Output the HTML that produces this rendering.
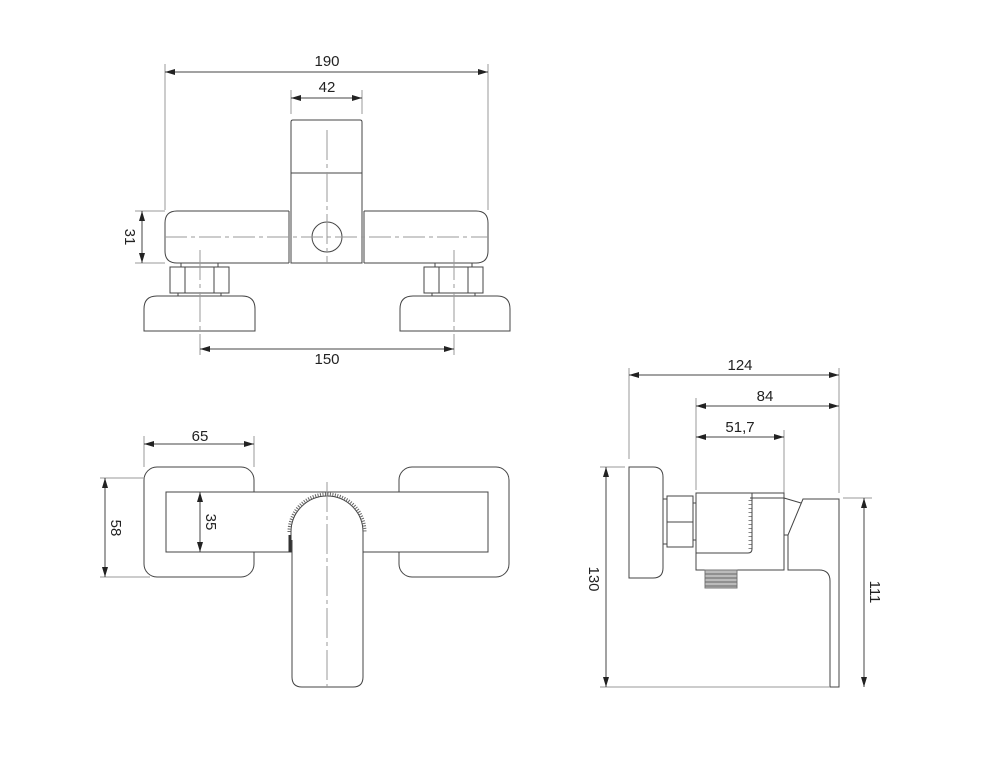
<!DOCTYPE html>
<html><head><meta charset="utf-8"><style>
html,body{margin:0;padding:0;background:#fff;}
svg{display:block;}
text{font-family:"Liberation Sans",sans-serif;font-size:15px;fill:#222;}
</style></head><body>
<svg width="988" height="760" viewBox="0 0 988 760" xmlns="http://www.w3.org/2000/svg">
<defs>
<marker id="a" viewBox="0 0 10 6" refX="10" refY="3" markerWidth="10" markerHeight="6" orient="auto-start-reverse" markerUnits="userSpaceOnUse"><path d="M0,0 L10,3 L0,6 z" fill="#222"/></marker>
</defs>
<g stroke="#444" stroke-width="1" fill="none">
<!-- ===== TOP VIEW ===== -->
<line x1="165" y1="64" x2="165" y2="210" stroke="#999"/>
<line x1="488" y1="64" x2="488" y2="210" stroke="#999"/>
<line x1="165" y1="72" x2="488" y2="72" marker-start="url(#a)" marker-end="url(#a)"/>
<line x1="291" y1="90" x2="291" y2="114" stroke="#999"/>
<line x1="362" y1="90" x2="362" y2="114" stroke="#999"/>
<line x1="291" y1="98" x2="362" y2="98" marker-start="url(#a)" marker-end="url(#a)"/>
<path d="M291,173 V122 Q291,120 293,120 H360 Q362,120 362,122 V173 Z"/>
<rect x="291" y="173" width="71" height="90"/>
<line x1="289" y1="211" x2="289" y2="263"/>
<line x1="364" y1="211" x2="364" y2="263"/>
<path d="M289,211 H177 Q165,211 165,223 V251 Q165,263 177,263 H289"/>
<path d="M364,211 H476 Q488,211 488,223 V251 Q488,263 476,263 H364"/>
<circle cx="327" cy="237" r="15"/>
<line x1="165" y1="237" x2="488" y2="237" stroke="#999" stroke-dasharray="22,4,4,4"/>
<line x1="327" y1="130" x2="327" y2="263" stroke="#999" stroke-dasharray="30,4,4,4"/>
<line x1="135" y1="211" x2="165" y2="211" stroke="#999"/>
<line x1="135" y1="263" x2="165" y2="263" stroke="#999"/>
<line x1="142" y1="211" x2="142" y2="263" marker-start="url(#a)" marker-end="url(#a)"/>
<!-- nuts -->
<rect x="181" y="263" width="37" height="4"/>
<rect x="170" y="267" width="59" height="26"/>
<line x1="185" y1="267" x2="185" y2="293"/><line x1="214" y1="267" x2="214" y2="293"/>
<rect x="178" y="293" width="43" height="3"/>
<path d="M144,331 V309 Q144,296 157,296 H242 Q255,296 255,309 V331 Z"/>
<rect x="435" y="263" width="37" height="4"/>
<rect x="424" y="267" width="59" height="26"/>
<line x1="439" y1="267" x2="439" y2="293"/><line x1="468" y1="267" x2="468" y2="293"/>
<rect x="432" y="293" width="43" height="3"/>
<path d="M400,331 V309 Q400,296 413,296 H497 Q510,296 510,309 V331 Z"/>
<line x1="200" y1="250" x2="200" y2="355" stroke="#999" stroke-dasharray="30,4,4,4"/>
<line x1="454" y1="250" x2="454" y2="355" stroke="#999" stroke-dasharray="30,4,4,4"/>
<line x1="200" y1="349" x2="454" y2="349" marker-start="url(#a)" marker-end="url(#a)"/>

<!-- ===== FRONT VIEW ===== -->
<line x1="144" y1="436" x2="144" y2="467" stroke="#999"/>
<line x1="254" y1="436" x2="254" y2="467" stroke="#999"/>
<line x1="144" y1="444" x2="254" y2="444" marker-start="url(#a)" marker-end="url(#a)"/>
<rect x="144" y="467" width="110" height="110" rx="13" fill="#fff"/>
<rect x="399" y="467" width="110" height="110" rx="13" fill="#fff"/>
<rect x="166" y="492" width="322" height="60" fill="#fff"/>
<path d="M291,552 V532 A36,36 0 0 1 363,532 V552" fill="#fff"/>
<path d="M289,532 A38,38 0 0 1 365,532" stroke="#666" stroke-width="3" stroke-dasharray="1,1.5"/>
<line x1="290" y1="535" x2="290" y2="552" stroke="#333" stroke-width="3"/>
<path d="M292,540 V677 Q292,687 302,687 H353 Q363,687 363,677 V540" fill="#fff"/>
<line x1="327" y1="482" x2="327" y2="687" stroke="#999" stroke-dasharray="30,4,4,4"/>
<line x1="100" y1="478" x2="145" y2="478" stroke="#999"/>
<line x1="100" y1="577" x2="150" y2="577" stroke="#999"/>
<line x1="105" y1="478" x2="105" y2="577" marker-start="url(#a)" marker-end="url(#a)"/>
<line x1="200" y1="492" x2="200" y2="552" marker-start="url(#a)" marker-end="url(#a)"/>

<!-- ===== SIDE VIEW ===== -->
<line x1="629" y1="368" x2="629" y2="459" stroke="#999"/>
<line x1="696" y1="398" x2="696" y2="490" stroke="#999"/>
<line x1="784" y1="430" x2="784" y2="496" stroke="#999"/>
<line x1="839" y1="368" x2="839" y2="493" stroke="#999"/>
<line x1="629" y1="375" x2="839" y2="375" marker-start="url(#a)" marker-end="url(#a)"/>
<line x1="696" y1="406" x2="839" y2="406" marker-start="url(#a)" marker-end="url(#a)"/>
<line x1="696" y1="437" x2="784" y2="437" marker-start="url(#a)" marker-end="url(#a)"/>
<path d="M629,467 H653 Q663,467 663,477 V568 Q663,578 653,578 H629 Z"/>
<rect x="667" y="496" width="26" height="51"/>
<line x1="667" y1="522" x2="693" y2="522"/>
<line x1="663" y1="499" x2="667" y2="499"/><line x1="663" y1="544" x2="667" y2="544"/>
<line x1="693" y1="503" x2="696" y2="503"/><line x1="693" y1="540" x2="696" y2="540"/>
<rect x="696" y="493" width="88" height="77"/>
<path d="M696,553 H748 Q752,553 752,549 V493"/>
<line x1="750" y1="498" x2="784" y2="498"/>
<line x1="750" y1="500" x2="750" y2="550" stroke="#888" stroke-width="3" stroke-dasharray="1,3"/>
<rect x="705" y="570" width="32" height="18" fill="#bbb" stroke="#777"/>
<g stroke="#666"><line x1="705" y1="574" x2="737" y2="574"/><line x1="705" y1="578" x2="737" y2="578"/><line x1="705" y1="582" x2="737" y2="582"/><line x1="705" y1="586" x2="737" y2="586"/></g>
<line x1="784" y1="498" x2="801" y2="503"/>
<path d="M803,499 H839 V687 H830 V581 Q830,570 819,570 H788 V535 Z"/>
<line x1="784" y1="535" x2="788" y2="535"/>
<line x1="600" y1="467" x2="625" y2="467" stroke="#999"/>
<line x1="600" y1="687" x2="830" y2="687" stroke="#999"/>
<line x1="843" y1="498" x2="872" y2="498" stroke="#999"/>
<line x1="606" y1="467" x2="606" y2="687" marker-start="url(#a)" marker-end="url(#a)"/>
<line x1="864" y1="498" x2="864" y2="687" marker-start="url(#a)" marker-end="url(#a)"/>
</g>
<g text-anchor="middle">
<text x="327" y="66">190</text>
<text x="327" y="92">42</text>
<text x="327" y="364">150</text>
<text x="200" y="441">65</text>
<text x="740" y="370">124</text>
<text x="765" y="401">84</text>
<text x="740" y="432">51,7</text>
<text transform="translate(125,237) rotate(90)">31</text>
<text transform="translate(111,528) rotate(90)">58</text>
<text transform="translate(206,522) rotate(90)">35</text>
<text transform="translate(589,579) rotate(90)">130</text>
<text transform="translate(870,592) rotate(90)">111</text>
</g>
</svg>
</body></html>
